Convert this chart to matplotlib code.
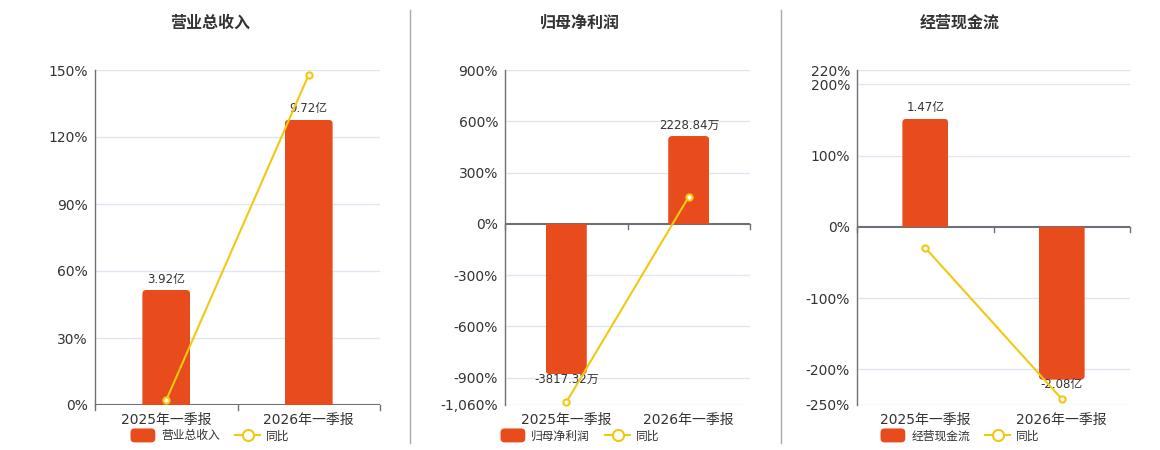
import matplotlib
matplotlib.use("Agg")
import matplotlib.pyplot as plt
from matplotlib.patches import FancyBboxPatch, Patch
from matplotlib.lines import Line2D
from matplotlib.legend_handler import HandlerPatch

plt.rcParams['font.family'] = ['DejaVu Sans', 'Noto Sans CJK SC']

# ---------------- data ----------------
categories = ["2025年一季报", "2026年一季报"]

titles = ["营业总收入", "归母净利润", "经营现金流"]

rev_values = [3.92, 9.72]            # 亿
rev_labels = ["3.92亿", "9.72亿"]
rev_yoy = [2.2, 147.9]               # %

np_values = [-3817.32, 2228.84]      # 万
np_labels = ["-3817.32万", "2228.84万"]
np_yoy = [-1044.0, 158.4]            # %

cf_values = [1.47, -2.08]            # 亿
cf_labels = ["1.47亿", "-2.08亿"]
cf_yoy = [-29.5, -241.5]             # %

rev_ticks = [0, 30, 60, 90, 120, 150]
rev_tick_labels = ["0%", "30%", "60%", "90%", "120%", "150%"]
np_ticks = [-1060, -900, -600, -300, 0, 300, 600, 900]
np_tick_labels = ["-1,060%", "-900%", "-600%", "-300%", "0%", "300%", "600%", "900%"]
cf_ticks = [-250, -200, -100, 0, 100, 200, 220]
cf_tick_labels = ["-250%", "-200%", "-100%", "0%", "100%", "200%", "220%"]

# ---------------- style ----------------
BAR = "#E84B1C"
LINE = "#F2C811"
AXIS = "#6E7079"
GRID = "#E0E6F1"
TXT = "#333333"

W, H = 1160, 450
fig = plt.figure(figsize=(W / 100, H / 100), dpi=100)


def fx(px):
    return px / W


def fy(py):
    return 1 - py / H


panels = [
    dict(left=95, right=380, top=70, bottom=405, values=rev_values, labels=rev_labels,
         yoy=rev_yoy, ticks=rev_ticks, tlabels=rev_tick_labels, ylim=(0, 150),
         bar_ylim=(0, 11.42), title=titles[0], center=210),
    dict(left=505, right=750, top=70, bottom=405, values=np_values, labels=np_labels,
         yoy=np_yoy, ticks=np_ticks, tlabels=np_tick_labels, ylim=(-1060, 900),
         bar_ylim=(-4603, 3906), title=titles[1], center=580),
    dict(left=857, right=1130, top=70, bottom=405, values=cf_values, labels=cf_labels,
         yoy=cf_yoy, ticks=cf_ticks, tlabels=cf_tick_labels, ylim=(-250, 220),
         bar_ylim=(-2.425, 2.135), title=titles[2], center=960),
]

bar_w = 0.335
x = [0, 1]


def round_patch(legend, orig_handle, xdescent, ydescent, width, height, fontsize):
    return FancyBboxPatch((-xdescent, -ydescent - 1.5), width, height + 3,
                          boxstyle="round,pad=0,rounding_size=3")


for p in panels:
    rect = [fx(p['left']), fy(p['bottom']), fx(p['right'] - p['left']),
            (p['bottom'] - p['top']) / H]
    ax = fig.add_axes(rect)
    axb = ax.twinx()
    axl = ax.twinx()
    for a in (ax, axb, axl):
        a.set_xlim(-0.5, 1.5)
        for s in a.spines.values():
            s.set_visible(False)
        a.patch.set_visible(False)
    ax.patch.set_visible(True)
    ax.patch.set_facecolor("white")

    ax.set_ylim(*p['ylim'])
    axl.set_ylim(*p['ylim'])
    axb.set_ylim(*p['bar_ylim'])
    axb.set_yticks([])
    axl.set_yticks([])

    ax.set_yticks(p['ticks'])
    ax.set_yticklabels(p['tlabels'], fontsize=10, color=TXT)
    ax.tick_params(axis='y', length=0, pad=5)
    for t in p['ticks']:
        if t != 0:
            ax.axhline(t, color=GRID, lw=1.0, zorder=0)
    ax.spines['left'].set_visible(True)
    ax.spines['left'].set_color(AXIS)
    ax.spines['left'].set_linewidth(1.0)

    ax.set_xticks([])
    for a in (axb, axl):
        a.set_xticks([])
    ax.axhline(0, color=AXIS, lw=1.5, zorder=5)
    zero_frac = (0 - p['ylim'][0]) / (p['ylim'][1] - p['ylim'][0])
    trans = ax.get_xaxis_transform()
    for tx in [-0.5, 0.5, 1.5]:
        ax.plot([tx, tx], [zero_frac, zero_frac - 5 / (p['bottom'] - p['top'])],
                transform=trans, color=AXIS, lw=1.0, clip_on=False, zorder=5)
    for i, c in enumerate(categories):
        ax.text(x[i], -0.045, c, transform=trans, ha='center', va='center',
                fontsize=10, color=TXT)

    # bars with rounded far end (rounded box clipped by the plain bar)
    ax_w_px = p['right'] - p['left']
    ax_h_px = p['bottom'] - p['top']
    xu_per_px = 2.0 / ax_w_px
    yu_per_px = (p['bar_ylim'][1] - p['bar_ylim'][0]) / ax_h_px
    rects = axb.bar(x, p['values'], width=bar_w, color=BAR, zorder=2, linewidth=0)
    for r, v in zip(rects, p['values']):
        r.set_visible(False)
        x0 = r.get_x()
        w = r.get_width()
        h = r.get_height()
        ext = 10 * yu_per_px
        if h >= 0:
            y0, hh = -ext, h + ext
        else:
            y0, hh = h, -h + ext
        fb = FancyBboxPatch((x0, y0), w, hh,
                            boxstyle="round,pad=0,rounding_size=%f" % (4 * xu_per_px),
                            mutation_aspect=yu_per_px / xu_per_px,
                            facecolor=BAR, edgecolor='none', linewidth=0, zorder=2)
        axb.add_patch(fb)
        fb.set_clip_path(r)
    for i, (v, lab) in enumerate(zip(p['values'], p['labels'])):
        off = 11 if v >= 0 else -5
        axb.annotate(lab, xy=(x[i], v), xytext=(0, off * 0.72), textcoords='offset points',
                     ha='center', va='center', fontsize=8.5, color=TXT, zorder=3)

    axl.plot(x, p['yoy'], color=LINE, lw=1.5, marker='o', markersize=4.5,
             markerfacecolor='white', markeredgecolor=LINE, markeredgewidth=1.5,
             zorder=6, clip_on=False)

    fig.text(fx(p['center']), fy(23), p['title'], ha='center', va='center',
             fontsize=11.5, fontweight='bold', color=TXT,
             family=['Noto Sans CJK SC', 'DejaVu Sans'])

    handles = [Patch(facecolor=BAR, edgecolor='none'),
               Line2D([0], [0], color=LINE, lw=1.5, marker='o', markersize=8,
                      markerfacecolor='white', markeredgecolor=LINE, markeredgewidth=1.5)]
    fig.legend(handles, [p['title'], "同比"], loc='center',
               bbox_to_anchor=(fx(p['center']), fy(436)), ncol=2, frameon=False,
               handlelength=2.1, handleheight=0.9, columnspacing=1.3,
               handletextpad=0.5, labelcolor=TXT,
               handler_map={Patch: HandlerPatch(patch_func=round_patch)},
               prop={'family': ['Noto Sans CJK SC', 'DejaVu Sans'], 'size': 8.5})

# separators
for sx in [410, 781]:
    fig.add_artist(Line2D([fx(sx), fx(sx)], [fy(10), fy(443)], color="#AAAAAA", lw=1.0))

fig.savefig("out.png", dpi=100)
